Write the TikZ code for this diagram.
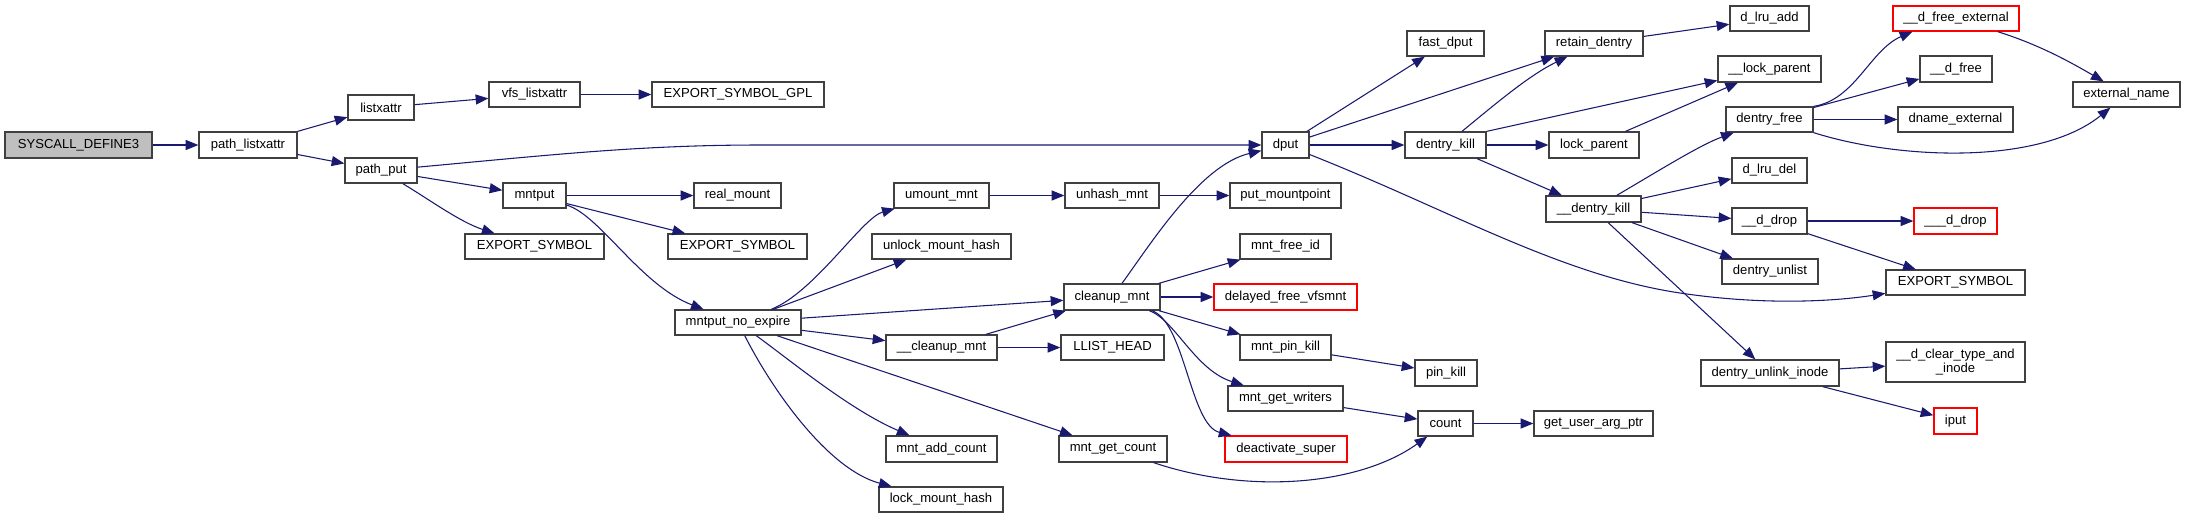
\documentclass[tikz,border=0pt]{standalone}
\usepackage{fontspec}
\setmainfont{Liberation Sans}
\usetikzlibrary{arrows.meta,calc}
\definecolor{edgec}{RGB}{25,25,112}
\definecolor{gfill}{RGB}{191,191,191}
\definecolor{bordc}{RGB}{64,64,64}
\tikzset{
  box/.style={draw=bordc, line width=0.95pt, fill=white, inner sep=0pt, align=center,
    text=black, font=\fontsize{9.8pt}{10.5pt}\selectfont},
  redbox/.style={draw=red},
  e/.style={draw=edgec, line width=0.8pt, -{Triangle[length=9.5pt,width=7.5pt]}}
}
\newcommand\bx[7][]{\node[box,#1,minimum width={(#5-#3)*0.75pt},minimum height={(#6-#4)*0.75pt}] (#2) at ({(#3+#5)/2},{(#4+#6)/2}) {#7};}
\begin{document}
\begin{tikzpicture}[x=0.75pt,y=-0.75pt]
\fill[white] (0,0) rectangle (2185,519);
\useasboundingbox (0,0) rectangle (2185,519);
% nodes
\bx[fill=gfill]{sys}{5}{132}{152}{158}{SYSCALL\_DEFINE3}
\bx{plx}{199}{132}{297}{158}{path\_listxattr}
\bx{lx}{348}{95}{414}{120}{listxattr}
\bx{vfs}{489}{82}{580}{107}{vfs\_listxattr}
\bx{gpl}{652}{82}{824}{107}{EXPORT\_SYMBOL\_GPL}
\bx{pp}{345}{158}{417}{183}{path\_put}
\bx{mp}{503}{183}{566}{208}{mntput}
\bx{esa}{465}{234}{604}{259}{EXPORT\_SYMBOL}
\bx{rm}{694}{183}{781}{208}{real\_mount}
\bx{esb}{668}{234}{807}{259}{EXPORT\_SYMBOL}
\bx{mne}{675}{310}{801}{335}{mntput\_no\_expire}
\bx{um}{894}{183}{989}{208}{umount\_mnt}
\bx{umh}{872}{234}{1011}{259}{unlock\_mount\_hash}
\bx{ccm}{886}{335}{997}{360}{\_\_cleanup\_mnt}
\bx{mac}{886}{436}{997}{462}{mnt\_add\_count}
\bx{lmh}{879}{487}{1003}{512}{lock\_mount\_hash}
\bx{uhm}{1065}{183}{1159}{208}{unhash\_mnt}
\bx{cm}{1064}{284}{1160}{310}{cleanup\_mnt}
\bx{llh}{1061}{335}{1164}{360}{LLIST\_HEAD}
\bx{mgc}{1059}{436}{1167}{462}{mnt\_get\_count}
\bx{dput}{1262}{132}{1309}{158}{dput}
\bx{pmp}{1230}{183}{1341}{208}{put\_mountpoint}
\bx{mfi}{1240}{234}{1331}{259}{mnt\_free\_id}
\bx[redbox]{dfv}{1214}{284}{1357}{310}{delayed\_free\_vfsmnt}
\bx{mpk}{1240}{335}{1331}{360}{mnt\_pin\_kill}
\bx{mgw}{1228}{386}{1343}{411}{mnt\_get\_writers}
\bx[redbox]{ds}{1225}{436}{1347}{462}{deactivate\_super}
\bx{fd}{1407}{31}{1484}{56}{fast\_dput}
\bx{dk}{1405}{132}{1486}{158}{dentry\_kill}
\bx{pk}{1415}{360}{1477}{386}{pin\_kill}
\bx{cnt}{1418}{411}{1473}{436}{count}
\bx{rd}{1545}{31}{1643}{56}{retain\_dentry}
\bx{lp}{1549}{132}{1639}{158}{lock\_parent}
\bx{udk}{1546}{196}{1641}{222}{\_\_dentry\_kill}
\bx{guap}{1534}{411}{1653}{436}{get\_user\_arg\_ptr}
\bx{dla}{1730}{6}{1809}{31}{d\_lru\_add}
\bx{ulp}{1718}{56}{1821}{82}{\_\_lock\_parent}
\bx{df}{1726}{107}{1813}{132}{dentry\_free}
\bx{dld}{1732}{158}{1807}{183}{d\_lru\_del}
\bx{udd}{1732}{208}{1807}{234}{\_\_d\_drop}
\bx{du}{1722}{259}{1818}{284}{dentry\_unlist}
\bx{dui}{1701}{360}{1839}{386}{dentry\_unlink\_inode}
\bx[redbox]{dfe}{1893}{6}{2019}{31}{\_\_d\_free\_external}
\bx{udf}{1920}{56}{1992}{82}{\_\_d\_free}
\bx{dne}{1898}{107}{2013}{132}{dname\_external}
\bx{en}{2073}{82}{2180}{107}{external\_name}
\bx[redbox]{uudd}{1914}{208}{1997}{234}{\_\_\_d\_drop}
\bx{esc}{1886}{270}{2025}{295}{EXPORT\_SYMBOL}
\bx{dcti}{1886}{342}{2025}{382}{\_\_d\_clear\_type\_and\\\_inode}
\bx[redbox]{iput}{1934}{408}{1977}{434}{iput}
% edges
\draw[e] (sys) -- (plx);
\draw[e] (plx.north east) -- (lx);
\draw[e] (plx) -- (pp);
\draw[e] (lx) -- (vfs);
\draw[e] (vfs) -- (gpl);
\draw[e] (pp) .. controls (550,155) and (640,145) .. (760,145) -- (dput);
\draw[e] (pp) -- (mp);
\draw[e] (pp) .. controls (430,200) and (460,222) .. (esa);
\draw[e] (mp) -- (rm);
\draw[e] (mp) -- (esb);
\draw[e] (mp) .. controls (600,215) and (640,285) .. (mne);
\draw[e] (mne) .. controls (815,292) and (862,217.8) .. (um);
\draw[e] (mne) -- (umh);
\draw[e] (mne) -- (cm);
\draw[e] (mne) -- (ccm);
\draw[e] (mne) -- (mgc);
\draw[e] (mne) .. controls (790,360) and (850,410) .. (mac);
\draw[e] (mne) .. controls (775,395) and (830,470) .. (lmh);
\draw[e] (um) -- (uhm);
\draw[e] (uhm) -- (pmp);
\draw[e] (ccm) -- (cm);
\draw[e] (ccm) -- (llh);
\draw[e] (cm) .. controls (1150,245) and (1200,165) .. (dput);
\draw[e] (cm) -- (mfi);
\draw[e] (cm) -- (dfv);
\draw[e] (cm) -- (mpk);
\draw[e] (cm) .. controls (1175,320) and (1195,370) .. (mgw);
\draw[e] (cm) .. controls (1185,322) and (1190,425) .. (ds);
\draw[e] (mgc) .. controls (1250,495) and (1360,485) .. (cnt);
\draw[e] (mpk) -- (pk);
\draw[e] (mgw) -- (cnt);
\draw[e] (cnt) -- (guap);
\draw[e] (dput) -- (fd);
\draw[e] (dput) -- (rd);
\draw[e] (dput) -- (dk);
\draw[e] (dput) .. controls (1450,210) and (1560,275) .. (1680,293) .. controls (1760,305) and (1830,302) .. (esc);
\draw[e] (dk) .. controls (1500,100) and (1530,75) .. (rd);
\draw[e] (dk.north east) -- (ulp);
\draw[e] (dk) -- (lp);
\draw[e] (dk) -- (udk);
\draw[e] (lp) -- (ulp);
\draw[e] (rd) -- (dla);
\draw[e] (udk) .. controls (1660,170) and (1700,145) .. (df);
\draw[e] (udk) -- (dld);
\draw[e] (udk) -- (udd);
\draw[e] (udk) -- (du);
\draw[e] (udk) -- (dui);
\draw[e] (df.north east) .. controls (1855,100) and (1870,50) .. ($(dfe.south west)+(20,0)$);
\draw[e] (df) -- (udf);
\draw[e] (df) -- (dne);
\draw[e] (df.south east) .. controls (1900,160) and (2040,165) .. (en);
\draw[e] (dfe) .. controls (2040,45) and (2070,62) .. (en);
\draw[e] (udd) -- (uudd);
\draw[e] (udd) -- (esc);
\draw[e] (dui) -- (dcti);
\draw[e] (dui) -- (iput);
\end{tikzpicture}
\end{document}
